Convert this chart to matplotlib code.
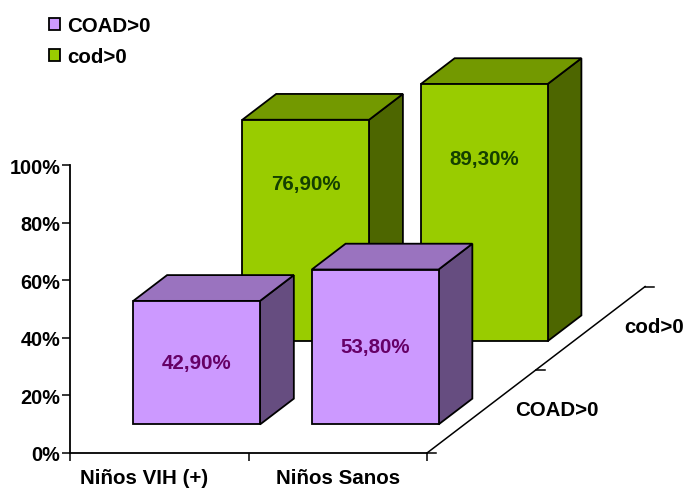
import matplotlib
matplotlib.use('Agg')
import matplotlib.pyplot as plt
from matplotlib.patches import Patch

plt.rcParams['font.family'] = ['Liberation Sans', 'DejaVu Sans']
plt.rcParams['font.weight'] = 'bold'

# Data
categories = ['Niños VIH (+)', 'Niños Sanos']
series_names = ['COAD>0', 'cod>0']
coad = [42.9, 53.8]
cod = [76.9, 89.3]
y_ticks = [0, 20, 40, 60, 80, 100]

# Colours per series: front, top, side, label
colors = [
    ('#CC99FF', '#9A73BF', '#664D80', '#660066'),
    ('#99CC00', '#739900', '#4D6600', '#144000'),
]
label_frac = [0.5, 0.71]  # height of the value label on the bar

W, H = 685, 489
fig = plt.figure(figsize=(W / 100, H / 100), dpi=100)
ax = fig.add_axes([70 / W, (H - 454) / H, 357 / W, 288 / H])
ax.set_xlim(0, 2)
ax.set_ylim(0, 100)

# Oblique depth: one depth unit moves this far in data units
SHEAR_X = 0.611
SHEAR_Y = 28.9
BAR_W = 0.71
BAR_D = 0.31
FRONT = 0.343


def project(x, d, v):
    return x + d * SHEAR_X, v + d * SHEAR_Y


def face(pts, color):
    xy = [project(*p) for p in pts]
    ax.fill([p[0] for p in xy], [p[1] for p in xy], facecolor=color,
            edgecolor='black', linewidth=1.3, joinstyle='miter', clip_on=False, zorder=3)


# Back series first, so the front bars cover it
for s in [1, 0]:
    values = [coad, cod][s]
    front_c, top_c, side_c, label_c = colors[s]
    d0 = s + FRONT
    d1 = d0 + BAR_D
    for i, v in enumerate(values):
        x0 = i + 0.5 - BAR_W / 2
        x1 = i + 0.5 + BAR_W / 2
        face([(x1, d0, 0), (x1, d1, 0), (x1, d1, v), (x1, d0, v)], side_c)
        face([(x0, d0, v), (x1, d0, v), (x1, d1, v), (x0, d1, v)], top_c)
        face([(x0, d0, 0), (x1, d0, 0), (x1, d0, v), (x0, d0, v)], front_c)
        lx, ly = project(i + 0.5, d0, v * label_frac[s])
        ax.text(lx, ly, f'{v:.2f}%'.replace('.', ','), color=label_c, fontsize=14.8,
                ha='center', va='center', zorder=4, clip_on=False)

# Floor edge going back, with its depth ticks
fx, fy = zip(*[project(2, d, 0) for d in (0, 2)])
ax.plot(fx, fy, color='black', lw=1.1, clip_on=False, zorder=2)
tick_len = 9 / 178.5
for d in (0, 1, 2):
    tx, ty = project(2, d, 0)
    ax.plot([tx, tx + tick_len], [ty, ty], color='black', lw=1.1, clip_on=False, zorder=2)

# Depth axis labels
for name, px, py in zip(series_names, [557, 654], [411, 328]):
    fig.text(px / W, 1 - py / H, name, fontsize=14.8, ha='center', va='center')

# Axes
for side in ['top', 'right']:
    ax.spines[side].set_visible(False)
for side in ['left', 'bottom']:
    ax.spines[side].set_linewidth(1.3)
ax.set_yticks(y_ticks)
ax.set_yticklabels([f'{t}%' for t in y_ticks], fontsize=14.3)
ax.set_xticks([0, 1, 2])
ax.set_xticklabels([])
ax.tick_params(axis='both', length=6, width=1.1, pad=1)

for i, name in enumerate(categories):
    fig.text([144.5, 338][i] / W, 1 - 479 / H, name, fontsize=14.8, ha='center', va='center')

# Legend
handles = [Patch(facecolor=c[0], edgecolor='black', linewidth=1.3) for c in colors]
fig.legend(handles, series_names, loc='upper left', bbox_to_anchor=(49 / W, 1 - 17 / H),
           fontsize=14.8, frameon=False, borderpad=0, borderaxespad=0, handlelength=0.55,
           handleheight=0.55, handletextpad=0.34, labelspacing=0.59)

fig.savefig('out.png', dpi=100)
